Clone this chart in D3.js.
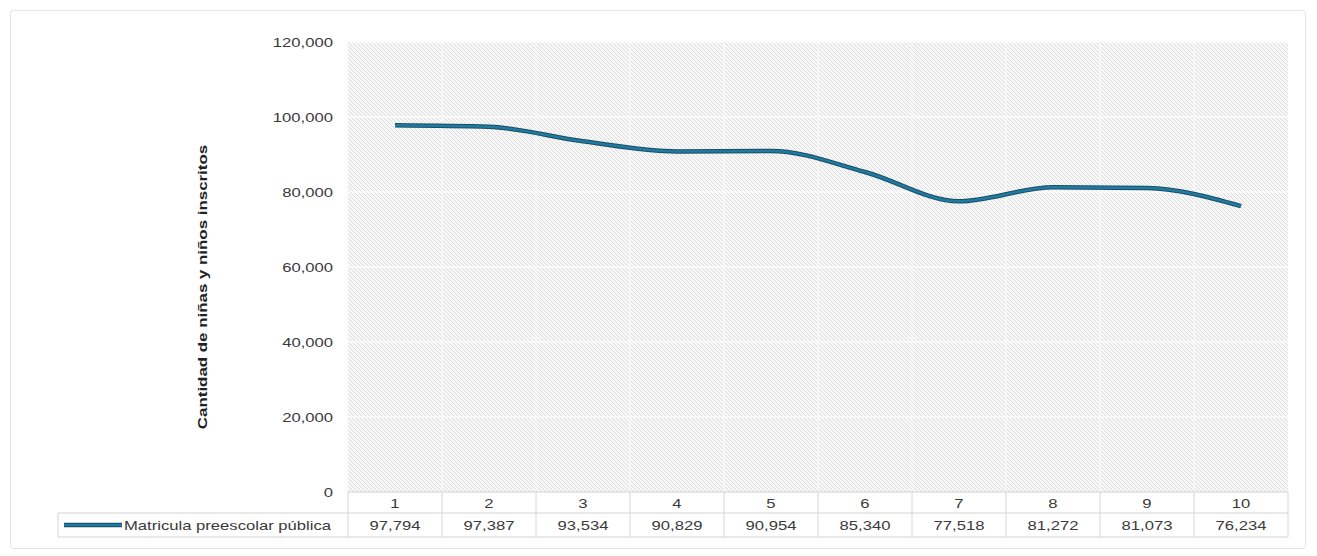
<!DOCTYPE html>
<html>
<head>
<meta charset="utf-8">
<script src="https://cdn.jsdelivr.net/npm/d3@7"></script>
<style>
  body { margin: 0; background: #fff; font-family: "Liberation Sans", Arial, sans-serif; }
</style>
</head>
<body>
<div class="chart"></div>
<script>
// data
var categories = ['1','2','3','4','5','6','7','8','9','10'];
var matricula = [97794, 97387, 93534, 90829, 90954, 85340, 77518, 81272, 81073, 76234];
var yTicks = [0, 20000, 40000, 60000, 80000, 100000, 120000];
var seriesName = 'Matricula preescolar pública';
var yLabel = 'Cantidad de niñas y niños inscritos';

var W = 1317, H = 556;
var margin = {top: 42, right: 29, bottom: 64, left: 348},
    width = W - margin.left - margin.right,
    height = H - margin.top - margin.bottom;

// text in the picture is drawn wide, so stretch it sideways
var SX = 1.28;
function wideText(sel, x, y, anchor) {
  return sel.append('text')
      .attr('transform', 'translate(' + x + ',' + y + ') scale(' + SX + ',1)')
      .attr('text-anchor', anchor || 'start')
      .attr('font-size', '13px')
      .attr('fill', '#3a3a3a');
}

var svg = d3.select('.chart')
  .append('svg')
    .attr('width', W)
    .attr('height', H);

// outer frame
svg.append('rect')
    .attr('x', 10.5).attr('y', 10.5)
    .attr('width', 1295).attr('height', 538)
    .attr('rx', 3)
    .attr('fill', '#fff')
    .attr('stroke', '#e4e4e4');

// hatch pattern for plot area
var defs = svg.append('defs');
var pat = defs.append('pattern')
    .attr('id', 'hatch')
    .attr('patternUnits', 'userSpaceOnUse')
    .attr('width', 4).attr('height', 4);
pat.append('rect').attr('width', 4).attr('height', 4).attr('fill', '#f8f8f8');
pat.append('path')
    .attr('d', 'M-1,-1 L5,5 M-1,3 L1,5 M3,-1 L5,1')
    .attr('stroke', '#dadada')
    .attr('stroke-width', 1);

var g = svg.append('g')
    .attr('transform', 'translate(' + margin.left + ',' + margin.top + ')');

var x = d3.scaleBand()
    .domain(categories)
    .range([0, width]);

var y = d3.scaleLinear()
    .domain([0, 120000])
    .range([height, 0]);

g.append('rect')
    .attr('width', width)
    .attr('height', height)
    .attr('fill', 'url(#hatch)');

// gridlines
g.selectAll('.hgrid')
  .data(yTicks.slice(1))
  .enter().append('line')
    .attr('class', 'hgrid')
    .attr('x1', 0).attr('x2', width)
    .attr('y1', d => y(d)).attr('y2', d => y(d))
    .attr('stroke', '#fbfbfb')
    .attr('stroke-width', 1.5);

g.selectAll('.vgrid')
  .data(categories.slice(1))
  .enter().append('line')
    .attr('class', 'vgrid')
    .attr('x1', d => x(d)).attr('x2', d => x(d))
    .attr('y1', 0).attr('y2', height)
    .attr('stroke', '#f8f8f8')
    .attr('stroke-width', 1.5);

// y axis labels
var fmt = d3.format(',');
yTicks.forEach(function(t) {
  wideText(g, -15, y(t) + 5, 'end').text(fmt(t));
});

// y axis title
svg.append('text')
    .attr('transform', 'translate(207,' + (margin.top + height / 2 + 20) + ') rotate(-90) scale(1.3,1)')
    .attr('text-anchor', 'middle')
    .attr('font-size', '13px')
    .attr('font-weight', 'bold')
    .attr('fill', '#222')
    .text(yLabel);

// line
var line = d3.line()
    .x((d, i) => x(categories[i]) + x.bandwidth() / 2)
    .y(d => y(d))
    .curve(d3.curveMonotoneX);

g.append('path')
    .datum(matricula)
    .attr('fill', 'none')
    .attr('stroke', '#174f66')
    .attr('stroke-width', 4.5)
    .attr('stroke-linejoin', 'round')
    .attr('d', line);
g.append('path')
    .datum(matricula)
    .attr('fill', 'none')
    .attr('stroke', '#2279a0')
    .attr('stroke-width', 2.5)
    .attr('stroke-linejoin', 'round')
    .attr('d', line);

// data table
var rowH = 21, row2H = 24;
var legendX = 58 - margin.left;
var tbl = g.append('g').attr('transform', 'translate(0,' + height + ')');
var border = '#d4d4d4';

tbl.append('line').attr('x1', 0).attr('x2', width).attr('y1', 0).attr('y2', 0).attr('stroke', border);
tbl.append('line').attr('x1', legendX).attr('x2', width).attr('y1', rowH).attr('y2', rowH).attr('stroke', border);
tbl.append('line').attr('x1', legendX).attr('x2', width).attr('y1', rowH + row2H).attr('y2', rowH + row2H).attr('stroke', border);
tbl.append('line').attr('x1', legendX).attr('x2', legendX).attr('y1', rowH).attr('y2', rowH + row2H).attr('stroke', border);

tbl.selectAll('.vb')
  .data(categories)
  .enter().append('line')
    .attr('x1', d => x(d)).attr('x2', d => x(d))
    .attr('y1', 0).attr('y2', rowH + row2H)
    .attr('stroke', border);
tbl.append('line').attr('x1', width).attr('x2', width).attr('y1', 0).attr('y2', rowH + row2H).attr('stroke', border);

categories.forEach(function(c) {
  wideText(tbl, x(c) + x.bandwidth() / 2, 16, 'middle').text(c);
});

matricula.forEach(function(v, i) {
  wideText(tbl, x(categories[i]) + x.bandwidth() / 2, rowH + 17, 'middle').text(fmt(v));
});

// legend key in the table
tbl.append('line')
    .attr('x1', legendX + 6).attr('x2', legendX + 64)
    .attr('y1', rowH + 12).attr('y2', rowH + 12)
    .attr('stroke', '#174f66').attr('stroke-width', 4.5);
tbl.append('line')
    .attr('x1', legendX + 6).attr('x2', legendX + 64)
    .attr('y1', rowH + 12).attr('y2', rowH + 12)
    .attr('stroke', '#2279a0').attr('stroke-width', 2.5);
wideText(tbl, legendX + 66, rowH + 17, 'start').text(seriesName);
</script>
</body>
</html>
